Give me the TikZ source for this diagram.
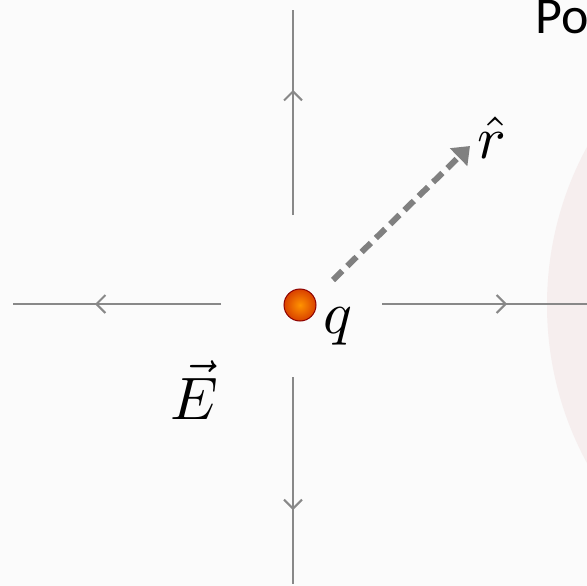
\documentclass[tikz,border=0pt]{standalone}
\usepackage{fontspec}
\newfontfamily\calib{Carlito}
\usetikzlibrary{arrows.meta,decorations.markings}
\definecolor{bg}{RGB}{251,251,251}
\definecolor{pinkish}{RGB}{246,238,238}
\definecolor{fieldgray}{RGB}{136,136,136}
\definecolor{dashgray}{RGB}{128,128,128}
\newcommand{\bigmath}[1]{\scalebox{6}{$#1$}}
\tikzset{
  fieldline/.style={draw=fieldgray, line width=2pt,
    decoration={markings, mark=at position #1 with {\arrow{Straight Barb[length=9pt,width=18pt,line width=2pt]}}},
    postaction={decorate}},
  mathlabel/.style={inner sep=0pt},
  chargeball/.style={circle, minimum size=32pt, inner sep=0pt, draw=red!55!black, line width=1pt,
    inner color=orange!85!yellow, outer color=orange!60!red!85!black},
  radial/.style={draw=dashgray, line width=6pt, dash pattern=on 13pt off 7pt,
    -{Triangle[length=16pt,width=24pt]}}
}
\begin{document}
\begin{tikzpicture}[x=1pt,y=-1pt]
\fill[bg] (0,0) rectangle (587,586);
\useasboundingbox (0,0) rectangle (587,586);
% faint pink disc at right
\fill[pinkish] (879,305) circle (332);
% title fragment
\node[anchor=base west, inner sep=0pt] (title) at (535,34) {\calib\fontsize{52}{52}\selectfont Po};
% field lines
\coordinate (t1) at (293,215); \coordinate (t2) at (293,10);
\coordinate (b1) at (293,377); \coordinate (b2) at (293,584);
\coordinate (l1) at (221,304); \coordinate (l2) at (13,304);
\coordinate (r1) at (382,304); \coordinate (r2) at (587,304);
\draw[fieldline=125pt] (t1) -- (t2);
\draw[fieldline=133pt] (b1) -- (b2);
\draw[fieldline=126pt] (l1) -- (l2);
\draw[fieldline=125pt] (r1) -- (r2);
% charge
\node[chargeball] (q) at (300,305) {};
\node[mathlabel] (qlab) at (338,326) {\bigmath{q}};
% radial unit vector
\coordinate (d1) at (333,280);
\coordinate (d2) at (470,146);
\draw[radial] (d1) -- (d2);
\node[mathlabel] (rhat) at (492,138) {\bigmath{\hat{r}}};
% field label
\node[mathlabel] (E) at (194,390) {\bigmath{\vec{E}}};
\end{tikzpicture}
\end{document}
